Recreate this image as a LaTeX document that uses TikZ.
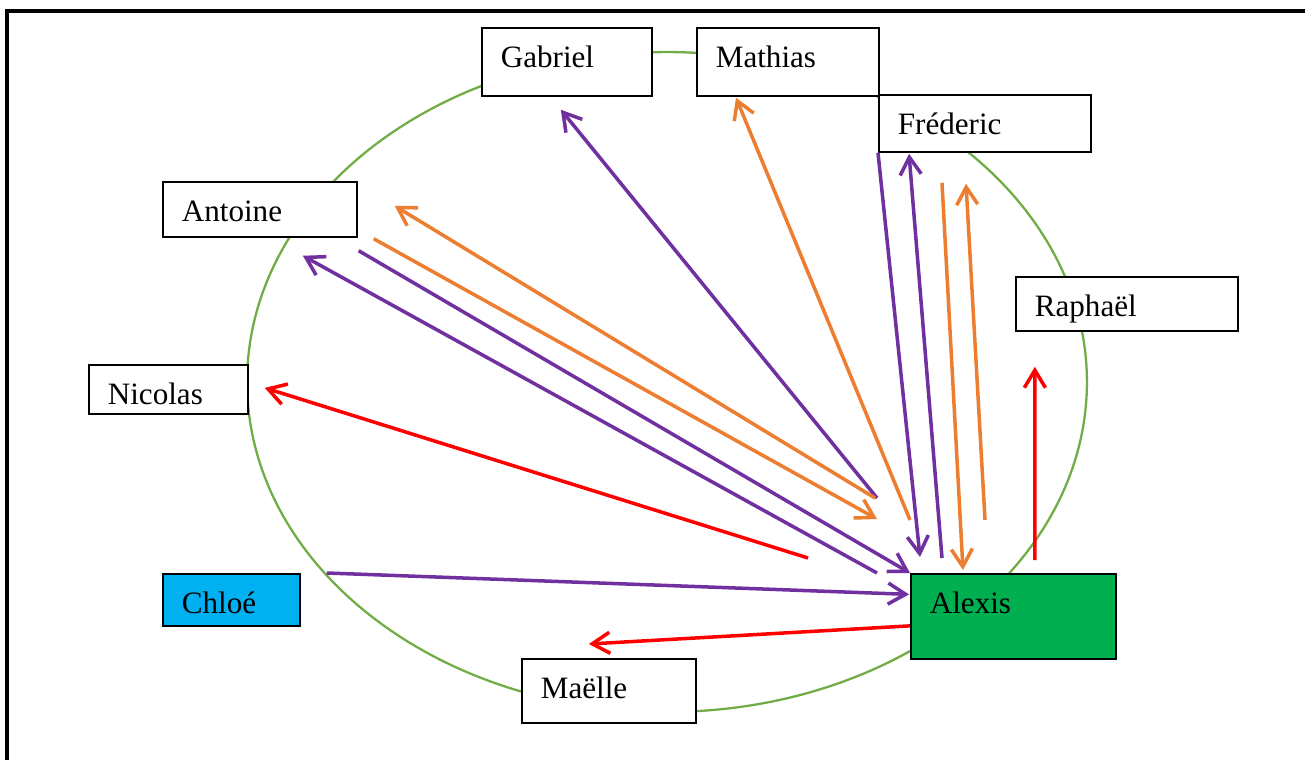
\documentclass[tikz,border=0pt]{standalone}
\usepackage{fontspec}
\setmainfont{Liberation Serif}
\usetikzlibrary{calc,arrows.meta}
\definecolor{ring}{HTML}{70AD47}
\definecolor{pur}{HTML}{7030A0}
\definecolor{ora}{HTML}{ED7D31}
\definecolor{rouge}{HTML}{FF0000}
\definecolor{bleu}{HTML}{00B0F0}
\definecolor{vert}{HTML}{00B050}

\begin{document}
\begin{tikzpicture}[
    x=0.02cm, y=-0.02cm,
    every node/.style={draw=black, line width=1pt, fill=white, anchor=north west,
        inner xsep=0.38cm, inner ysep=0pt, text height=0.8cm, align=left,
        font=\fontsize{17.7}{20}\selectfont},
    link/.style={line width=2pt, -{Straight Barb[length=10pt,width=12pt]}},
    P/.style={link, pur}, O/.style={link, ora}, R/.style={link, rouge}
]

\useasboundingbox (0,0) rectangle (1305,760);
\draw[line width=1.8pt] (7,760) -- (7,11) -- (1305,11);
\draw[ring, line width=1.3pt] (667,382) ellipse [x radius=8.4cm, y radius=6.6cm];

\node (Ga) at (481,27) [text width=2.64cm, text depth=0.56cm] {Gabriel};
\node (Mt) at (696,27) [text width=2.88cm, text depth=0.56cm] {Mathias};
\node (Fr) at (878,94) [text width=3.48cm, text depth=0.34cm] {Fréderic};
\node (An) at (162,181) [text width=3.12cm, text depth=0.30cm] {Antoine};
\node (Ra) at (1015,276) [text width=3.68cm, text depth=0.28cm] {Raphaël};
\node (Ni) at (88,364) [text width=2.42cm, text depth=0.18cm] {Nicolas};
\node (Ch) at (162,573) [fill=bleu, text width=1.98cm, text depth=0.24cm] {Chloé};
\node (Al) at (910,573) [fill=vert, text width=3.34cm, text depth=0.90cm] {Alexis};
\node (Me) at (521,658) [text width=2.72cm, text depth=0.48cm] {Maëlle};

\draw[P] ($(Al.north west)+(-33,-75)$) -- ($(Ga.south)+(-6,13)$);
\draw[P] ($(An.south east)+(1,13)$) -- (Al.north west);
\draw[P] ($(Al.north west)+(-33,0)$) -- ($(An.south)+(43,18)$);
\draw[P] (Fr.south west) -- ($(Al.north west)+(10,-16)$);
\draw[P] ($(Al.north west)+(32,-15)$) -- ($(Fr.south west)+(31,1)$);
\draw[P] ($(Ch.north east)+(26,0)$) -- ($(Al.west)+(-1,-22)$);

\draw[O] ($(Al.north west)+(0,-53)$) -- ($(Mt.south west)+(40,1)$);
\draw[O] ($(An.south east)+(16,1)$) -- ($(Al.north west)+(-33,-54)$);
\draw[O] ($(Al.north west)+(-35,-75)$) -- ($(An.east)+(37,-3.5)$);
\draw[O] ($(Fr.south west)+(64,30)$) -- ($(Al.north west)+(53,-3)$);
\draw[O] ($(Al.north west)+(75,-53)$) -- ($(Fr.south west)+(88,31)$);

\draw[R] ($(Al.north west)+(-102,-15)$) -- ($(Ni.east)+(16,-1.5)$);
\draw[R] ($(Al.west)+(0,9.5)$) -- ($(Me.north)+(-20,-14)$);
\draw[R] ($(Al.north)+(21.5,-13)$) -- ($(Ra.south)+(-92,35)$);

\end{tikzpicture}
\end{document}
